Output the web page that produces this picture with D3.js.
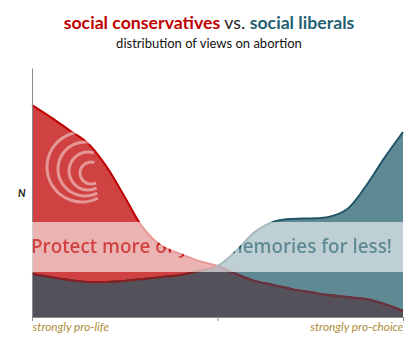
<!DOCTYPE html>
<html>
<head>
<meta charset="utf-8">
<script src="https://cdn.jsdelivr.net/npm/d3@7"></script>
<style>
  body { margin: 0; background: #fff; }
  svg { display: block; font-family: Lato, "Open Sans", sans-serif; }
</style>
</head>
<body>
<div id="chart"></div>
<script>
// positions along the pro-life -> pro-choice scale
const positions = [0, 5, 10, 15, 20, 25, 30, 35, 40, 45, 50, 55, 60, 65, 70, 75, 80, 85, 90, 95, 100];
// share of respondents
const conservatives = [85.1, 80.3, 75.1, 69.9, 60.6, 48.2, 35.7, 28.5, 25.3, 22.5, 20.5, 17.3, 14.5, 12.9, 11.2, 10.0, 8.8, 8.0, 7.2, 5.2, 2.4];
const liberals = [17.3, 16.1, 14.9, 14.1, 14.1, 14.5, 15.3, 16.1, 16.9, 18.5, 20.5, 26.5, 34.1, 38.2, 39.4, 39.6, 40.2, 43.4, 52.6, 63.9, 74.3];
const tickValues = [0, 50, 100];
const tickLabels = ['strongly pro-life', '', 'strongly pro-choice'];

const width = 418, height = 354;
const x = d3.scaleLinear().domain([0, 100]).range([32, 403]);
const y = d3.scaleLinear().domain([0, 100]).range([317, 68]);

const svg = d3.select('#chart').append('svg')
    .attr('width', width)
    .attr('height', height);

const defs = svg.append('defs');

// Title
const title = svg.append('text')
    .attr('x', width / 2)
    .attr('y', 29)
    .attr('text-anchor', 'middle')
    .style('font-size', '17.7px');
title.append('tspan').attr('fill', '#c00000').attr('font-weight', 700).text('social conservatives');
title.append('tspan').attr('fill', '#222').text(' vs. ');
title.append('tspan').attr('fill', '#1f5f72').attr('font-weight', 700).text('social liberals');

svg.append('text')
    .attr('x', width / 2)
    .attr('y', 48)
    .attr('text-anchor', 'middle')
    .style('font-size', '13px')
    .attr('fill', '#111')
    .text('distribution of views on abortion');

const cons = positions.map((p, i) => ({ x: p, v: conservatives[i] }));
const libs = positions.map((p, i) => ({ x: p, v: liberals[i] }));

const curve = d3.curveCatmullRom.alpha(0.5);
const area = d3.area()
    .x(d => x(d.x))
    .y0(y(0))
    .y1(d => y(d.v))
    .curve(curve);
const line = d3.line()
    .x(d => x(d.x))
    .y(d => y(d.v))
    .curve(curve);

defs.append('clipPath').attr('id', 'clip-cons')
    .append('path').attr('d', area(cons));
defs.append('clipPath').attr('id', 'clip-libs')
    .append('path').attr('d', area(libs));

const g = svg.append('g');

// areas
g.append('path').attr('d', area(cons)).attr('fill', '#d04242');
g.append('path').attr('d', area(libs)).attr('fill', '#5f8a94');
// overlap of the two distributions
g.append('path').attr('d', area(libs))
    .attr('clip-path', 'url(#clip-cons)')
    .attr('fill', '#55515a');

// outlines
g.append('path').attr('d', line(cons))
    .attr('fill', 'none').attr('stroke', '#c00000').attr('stroke-width', 2);
g.append('path').attr('d', line(libs))
    .attr('fill', 'none').attr('stroke', '#1f5566').attr('stroke-width', 2);
g.append('path').attr('d', line(cons))
    .attr('clip-path', 'url(#clip-libs)')
    .attr('fill', 'none').attr('stroke', '#5e3846').attr('stroke-width', 2);
g.append('path').attr('d', line(libs))
    .attr('clip-path', 'url(#clip-cons)')
    .attr('fill', 'none').attr('stroke', '#8e1c1c').attr('stroke-width', 2);

// axes
const xAxis = svg.append('g')
    .attr('transform', `translate(0,${y(0)})`)
    .call(d3.axisBottom(x).tickValues(tickValues).tickSize(4).tickSizeOuter(0)
        .tickFormat((d, i) => tickLabels[i]));
xAxis.select('.domain').attr('stroke', '#8a8a8a');
xAxis.selectAll('.tick line').attr('stroke', '#8a8a8a');
xAxis.selectAll('.tick text')
    .attr('y', 6)
    .attr('dy', '0.71em')
    .attr('text-anchor', (d, i) => i === 0 ? 'start' : 'end')
    .attr('fill', '#b08c3c')
    .style('font-size', '11.8px')
    .style('font-style', 'italic')
    .style('font-family', 'Lato, sans-serif');

const yAxis = svg.append('g')
    .attr('transform', `translate(${x(0)},0)`)
    .call(d3.axisLeft(y).tickValues([]).tickSizeOuter(0));
yAxis.select('.domain').attr('stroke', '#8a8a8a');

svg.append('text')
    .attr('x', 18)
    .attr('y', 197)
    .attr('fill', '#111')
    .style('font-size', '10.5px')
    .style('font-weight', 700)
    .style('font-style', 'italic')
    .text('N');

// watermark: logo arcs
const arcGen = d3.arc().startAngle(Math.PI * 0.85).endAngle(Math.PI * 2.1);
[[82, 167, 35], [85, 169, 27], [88, 171, 19], [91, 173, 11]].forEach(([cx, cy, r]) => {
    svg.append('path')
        .attr('transform', `translate(${cx},${cy})`)
        .attr('d', arcGen.innerRadius(r - 1.5).outerRadius(r + 1.5)())
        .attr('fill', '#fff')
        .attr('opacity', 0.45);
});

// watermark band with knocked-out text
const mask = defs.append('mask').attr('id', 'wm');
mask.append('rect').attr('x', 0).attr('y', 222).attr('width', width).attr('height', 50).attr('fill', '#fff');
mask.append('text')
    .attr('x', 31)
    .attr('y', 253)
    .attr('textLength', 361)
    .attr('lengthAdjust', 'spacingAndGlyphs')
    .attr('fill', '#000')
    .style('font-size', '19px')
    .style('font-weight', 600)
    .style('font-family', '"Open Sans", sans-serif')
    .text('Protect more of your memories for less!');
svg.append('rect')
    .attr('x', 0).attr('y', 222).attr('width', width).attr('height', 50)
    .attr('fill', '#fff')
    .attr('opacity', 0.6)
    .attr('mask', 'url(#wm)');
</script>
</body>
</html>
